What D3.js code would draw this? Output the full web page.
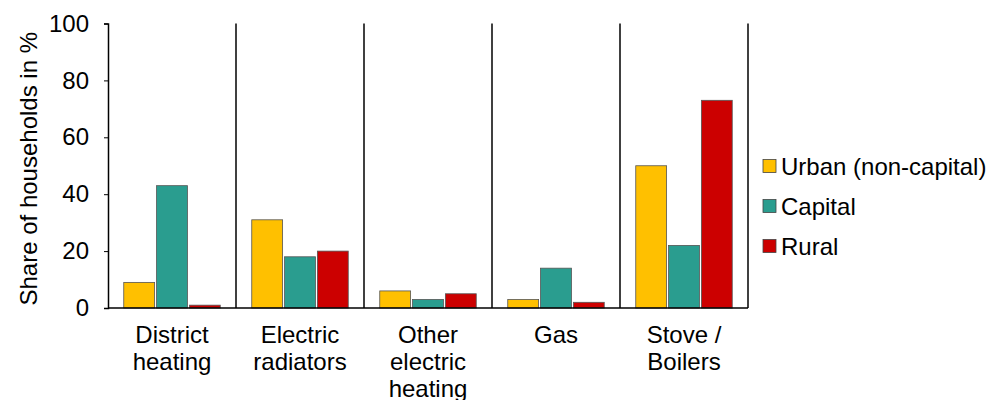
<!DOCTYPE html>
<html>
<head>
<meta charset="utf-8">
<script src="https://cdn.jsdelivr.net/npm/d3@7"></script>
<style>
  body { margin: 0; background: #fff; }
  svg text { font-family: "Liberation Sans", Arial, sans-serif; fill: #000; }
</style>
</head>
<body>
<div id="chart"></div>
<script>
// Chart data
const categories = [["District", "heating"], ["Electric", "radiators"], ["Other", "electric", "heating"], ["Gas"], ["Stove /", "Boilers"]];
const seriesNames = ["Urban (non-capital)", "Capital", "Rural"];
const urban = [9, 31, 6, 3, 50];
const capital = [43, 18, 3, 14, 22];
const rural = [1, 20, 5, 2, 73];
const yTicks = [0, 20, 40, 60, 80, 100];
const colors = ["#FFC000", "#2A9D8F", "#CC0000"];

const margin = { top: 23.5, right: 249, bottom: 92, left: 108 };
const width = 997, height = 400;
const innerW = width - margin.left - margin.right;
const innerH = height - margin.top - margin.bottom;
const fontSize = "24px";

const svg = d3.select("#chart").append("svg")
    .attr("width", width)
    .attr("height", height);

const g = svg.append("g")
    .attr("transform", `translate(${margin.left}, ${margin.top})`);

const x0 = d3.scaleBand()
    .domain(d3.range(categories.length))
    .range([0, innerW]);

const x1 = d3.scaleBand()
    .domain(d3.range(seriesNames.length))
    .range([0, x0.bandwidth()])
    .paddingInner(0.06)
    .paddingOuter(0.48);

const y = d3.scaleLinear()
    .domain([0, 100])
    .range([innerH, 0]);

const series = [urban, capital, rural];

// Bars
categories.forEach((c, i) => {
    const grp = g.append("g").attr("transform", `translate(${x0(i)}, 0)`);
    grp.selectAll("rect")
        .data(series.map((s, k) => ({ k: k, v: s[i] })))
        .enter().append("rect")
        .attr("x", d => x1(d.k))
        .attr("y", d => y(d.v))
        .attr("width", x1.bandwidth())
        .attr("height", d => innerH - y(d.v))
        .attr("fill", d => colors[d.k])
        .attr("stroke", "#555")
        .attr("stroke-width", 0.8);
});

// Group separators
g.selectAll("line.sep")
    .data(d3.range(1, categories.length + 1))
    .enter().append("line")
    .attr("class", "sep")
    .attr("x1", d => x0.step() * d)
    .attr("x2", d => x0.step() * d)
    .attr("y1", 0)
    .attr("y2", innerH)
    .attr("stroke", "#000")
    .attr("stroke-width", 1.5);

// Y axis
const yAxis = d3.axisLeft(y).tickValues(yTicks).tickSize(4).tickPadding(15);
const yAxisGroup = g.append("g").call(yAxis);
yAxisGroup.select(".domain").attr("stroke-width", 1.5);
yAxisGroup.selectAll("text").style("font-size", fontSize);

// X baseline
g.append("line")
    .attr("x1", 0).attr("x2", innerW)
    .attr("y1", innerH).attr("y2", innerH)
    .attr("stroke", "#000")
    .attr("stroke-width", 1.5);

// Category labels
categories.forEach((lines, i) => {
    const t = g.append("text")
        .attr("x", x0(i) + x0.bandwidth() / 2)
        .attr("y", innerH + 35)
        .attr("text-anchor", "middle")
        .style("font-size", fontSize);
    lines.forEach((l, j) => {
        t.append("tspan")
            .attr("x", x0(i) + x0.bandwidth() / 2)
            .attr("dy", j === 0 ? 0 : 27)
            .text(l);
    });
});

// Y axis title
svg.append("text")
    .attr("transform", `translate(37, ${margin.top + innerH / 2 + 3}) rotate(-90)`)
    .attr("text-anchor", "middle")
    .style("font-size", fontSize)
    .text("Share of households in %");

// Legend
const legend = svg.append("g").attr("transform", "translate(763, 166)");
seriesNames.forEach((name, k) => {
    const row = legend.append("g").attr("transform", `translate(0, ${k * 40})`);
    row.append("rect")
        .attr("x", 0).attr("y", -6.5)
        .attr("width", 13).attr("height", 13)
        .attr("fill", colors[k])
        .attr("stroke", "#444")
        .attr("stroke-width", 0.8);
    row.append("text")
        .attr("x", 18)
        .attr("y", 8.5)
        .style("font-size", fontSize)
        .text(name);
});
</script>
</body>
</html>
